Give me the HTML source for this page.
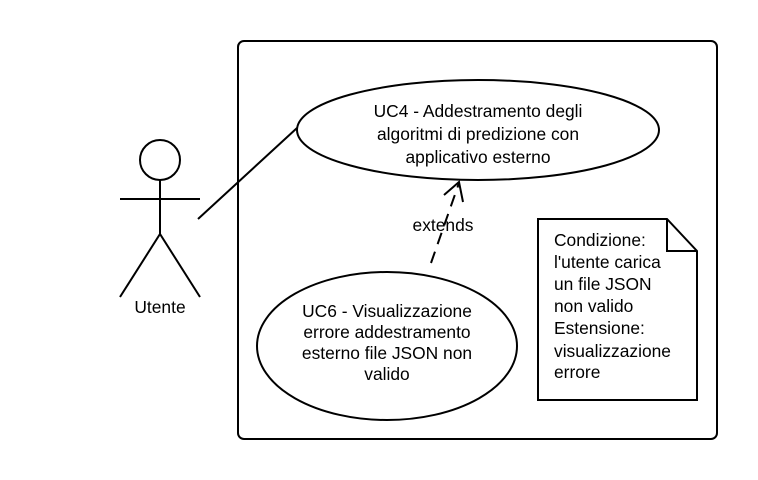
<!DOCTYPE html>
<html><head><style>body{margin:0;background:#fff}svg{display:block}</style></head><body>
<svg width="758" height="480" viewBox="0 0 758 480" xmlns="http://www.w3.org/2000/svg" font-family="Liberation Sans, sans-serif" font-size="17.4" fill="none" stroke="#000" stroke-width="2">
<rect x="238" y="41" width="479" height="398" rx="6"/>
<circle cx="160" cy="160" r="20"/>
<line x1="160" y1="180" x2="160" y2="234"/>
<line x1="120" y1="199" x2="200" y2="199"/>
<polyline points="120,297 160,234 200,297"/>
<line x1="198" y1="219" x2="297" y2="128"/>
<ellipse cx="478" cy="130" rx="181" ry="50"/>
<ellipse cx="387" cy="346" rx="130" ry="74"/>
<line x1="431" y1="263" x2="459" y2="183" stroke-dasharray="12,8"/>
<polyline points="444,195 459,182 463,202"/>
<path d="M538 219 H667 L697 251 V400 H538 Z"/>
<path d="M667 219 V251 H697"/>
<g fill="#000" stroke="none" text-anchor="middle">
<text x="160" y="313">Utente</text>
<text x="478" y="117">UC4 - Addestramento degli</text>
<text x="478" y="140">algoritmi di predizione con</text>
<text x="478" y="163">applicativo esterno</text>
<text x="443" y="231">extends</text>
<text x="387" y="317">UC6 - Visualizzazione</text>
<text x="387" y="338">errore addestramento</text>
<text x="387" y="359">esterno file JSON non</text>
<text x="387" y="380">valido</text>
</g>
<g fill="#000" stroke="none">
<text x="554" y="246">Condizione:</text>
<text x="554" y="268">l'utente carica</text>
<text x="554" y="290">un file JSON</text>
<text x="554" y="312">non valido</text>
<text x="554" y="334">Estensione:</text>
<text x="554" y="357">visualizzazione</text>
<text x="554" y="378">errore</text>
</g>
</svg>
</body></html>
